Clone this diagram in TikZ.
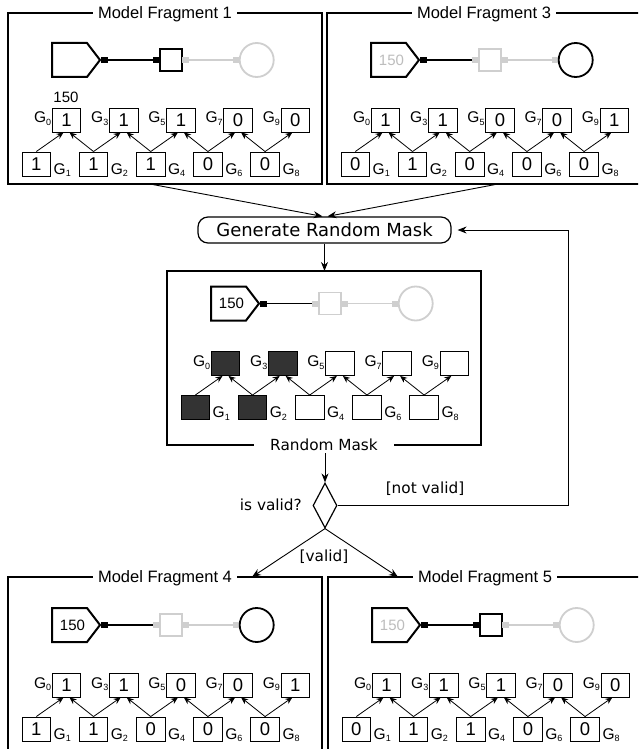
\documentclass[tikz,border=0pt]{standalone}
\usepackage{fontspec}
\setmainfont{Liberation Sans}
\newfontfamily\dvs{DejaVu Sans}
\usetikzlibrary{arrows.meta,shapes.geometric,calc}
\definecolor{lgray}{HTML}{CFCFCF}
\definecolor{tgray}{HTML}{BDBDBD}
\definecolor{dk}{HTML}{333333}
\newcommand\gsub[1]{G\raisebox{-2.5pt}{\fontsize{9}{9}\selectfont#1}}
\tikzset{
 frame/.style={draw, line width=2pt, anchor=north west, minimum width=314pt, inner sep=0pt, outer sep=0pt},
 ftitle/.style={fill=white, inner xsep=5pt, inner ysep=1pt, font=\fontsize{16.5}{18}\selectfont, text depth=0pt},
 mk/.style={rectangle, inner sep=0pt, minimum width=7pt, minimum height=6pt},
 cbox/.style={rectangle, draw, line width=1.2pt, minimum size=22pt, inner sep=0pt},
 ccirc/.style={circle, draw, line width=1.8pt, minimum size=34pt, inner sep=0pt},
 gbox/.style={rectangle, draw, line width=0.9pt, minimum width=28.5pt, minimum height=24pt, inner sep=0pt, font=\fontsize{18.5}{19}\selectfont},
 glab/.style={inner sep=0pt, font=\fontsize{15.5}{16}\selectfont},
 garr/.style={line width=0.8pt, -{Stealth[length=7pt,width=6pt]}},
 arr/.style={line width=0.9pt, -{Stealth[length=9pt,width=7pt]}},
 dtext/.style={inner sep=0pt, font=\dvs\fontsize{15.3}{16}\selectfont},
}
% #1 prefix, #2 x, #3 y, #4 pentagon text, #5 box colour, #6 circle colour, #7 top list, #8 bottom list
\newcommand\frag[8]{%
 \begin{scope}[shift={(#2,#3)}]
  \draw[line width=2pt, line join=miter] (44,30) -- (79,30) -- (92,47) -- (79,64) -- (44,64) -- cycle;
  \node[font=\fontsize{15}{15}\selectfont, inner sep=0pt] (#1ptext) at (64.5,47) {#4};
  \node[mk, fill=black] (#1ma) at (96,47) {};
  \node[mk, fill=#5] (#1mb) at (148.5,47) {};
  \node[cbox, draw=#5] (#1box) at (163,47) {};
  \node[mk, fill=lgray] (#1mc) at (177.5,47) {};
  \node[mk, fill=lgray] (#1md) at (228.5,47) {};
  \node[ccirc, draw=#6] (#1circ) at (248.7,47) {};
  \draw[line width=1.2pt] (#1ma) -- (#1mb);
  \draw[line width=1.2pt, lgray] (#1mc) -- (#1md);
  \foreach \v/\f [count=\i from 0] in {#7} {
    \pgfmathsetmacro\xx{58.5+57.2*\i}
    \node[gbox, fill=\f] (#1t\i) at (\xx,107) {\v};
  }
  \foreach \v/\f [count=\i from 0] in {#8} {
    \pgfmathsetmacro\xx{28.3+57.2*\i}
    \node[gbox, fill=\f] (#1b\i) at (\xx,151) {\v};
  }
  \foreach \g [count=\i from 0] in {0,3,5,7,9} {
    \node[glab, anchor=base east] (#1tl\i) at ($(#1t\i.west)+(-0.5,3)$) {\gsub{\g}};
  }
  \foreach \g [count=\i from 0] in {1,2,4,6,8} {
    \node[glab, anchor=base west] (#1bl\i) at ($(#1b\i.east)+(2.5,10)$) {\gsub{\g}};
  }
  \foreach \i in {0,...,4} {\draw[garr] (#1b\i.north) -- ($(#1t\i.south)+(-3,0)$);}
  \foreach \i/\j in {1/0,2/1,3/2,4/3} {\draw[garr] (#1b\i.north) -- ($(#1t\j.south)+(3,0)$);}
 \end{scope}}
\begin{document}
\begin{tikzpicture}[x=1pt,y=-1pt]
\useasboundingbox (0,0) rectangle (638,749);
\clip (0,0) rectangle (638,749);
\fill[white] (0,0) rectangle (638,749);
% frames
\node[frame, minimum height=171pt] (f1) at (8,13) {};
\node[frame, minimum height=171pt] (f3) at (327,13) {};
\node[frame, minimum height=174pt] (fm) at (167,271) {};
\node[frame, minimum height=200pt] (f4) at (8,577) {};
\node[frame, minimum height=200pt] (f5) at (328,577) {};
\node[ftitle] (t1) at (f1.north) {Model Fragment 1};
\node[ftitle] (t3) at (f3.north) {Model Fragment 3};
\node[ftitle] (t4) at (f4.north) {Model Fragment 4};
\node[ftitle] (t5) at (f5.north) {Model Fragment 5};
\node[dtext, fill=white, inner xsep=16pt, inner ysep=2pt, text depth=0pt] (rm) at (fm.south) {Random Mask};
% contents
\frag{a}{8}{13}{}{black}{lgray}{1/white,1/white,1/white,0/white,0/white}{1/white,1/white,1/white,0/white,0/white}
\node[font=\fontsize{15}{15}\selectfont, inner sep=0pt] (a150) at (66,97) {150};
\frag{c}{327}{13}{\textcolor{tgray}{150}}{lgray}{black}{1/white,1/white,0/white,0/white,1/white}{0/white,1/white,0/white,0/white,0/white}
\frag{m}{167}{256.5}{150}{lgray}{lgray}{{}/dk,{}/dk,{}/white,{}/white,{}/white}{{}/dk,{}/dk,{}/white,{}/white,{}/white}
\frag{d}{8}{578}{150}{lgray}{black}{1/white,1/white,0/white,0/white,1/white}{1/white,1/white,0/white,0/white,0/white}
\frag{e}{328}{578}{\textcolor{tgray}{150}}{black}{lgray}{1/white,1/white,1/white,0/white,0/white}{0/white,1/white,1/white,0/white,0/white}
% flow
\node[draw, line width=1.2pt, rounded corners=10pt, minimum width=253pt, minimum height=26pt, inner sep=0pt, font=\dvs\fontsize{18}{20}\selectfont] (gen) at (324.5,230) {Generate Random Mask};
\node[diamond, draw, line width=1.2pt, minimum width=24pt, minimum height=45pt, inner sep=0pt] (dia) at (325,505.5) {};
\node[dtext, anchor=east] (isv) at (302,505) {is valid?};
\node[dtext] (nv) at (425,489) {[not valid]};
\node[dtext] (vl) at (324,557) {[valid]};
\draw[arr] ($(f1.south west)+(142,0)$) -- ($(gen.north)+(-2,0)$);
\draw[arr] ($(f3.south west)+(171,0)$) -- ($(gen.north)+(3,0)$);
\draw[arr] (gen.south) -- (fm.north -| gen.south);
\draw[arr] (rm.south -| dia.north) -- (dia.north);
\coordinate (fb) at (568,505.5);
\draw[arr, shorten >=6pt] (dia.east) -- (fb) |- (gen.east);
\draw[arr] (dia.south) -- ($(f4.north west)+(244,0)$);
\draw[arr] (dia.south) -- ($(f5.north west)+(70,0)$);
\end{tikzpicture}
\end{document}
